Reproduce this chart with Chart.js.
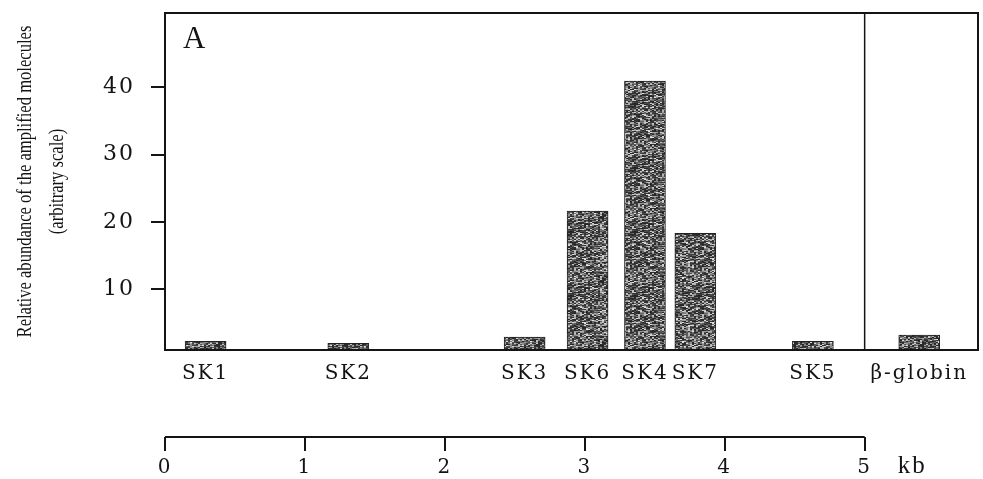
<!DOCTYPE html>
<html>
<head>
<meta charset="utf-8">
<script src="https://cdn.jsdelivr.net/npm/chart.js@4/dist/chart.umd.min.js"></script>
<style>
  html, body { margin: 0; padding: 0; background: #fff; }
  #wrap { width: 983px; height: 479px; }
</style>
</head>
<body>
<div id="wrap"><canvas id="abundanceChart" width="983" height="479"></canvas></div>
<script>
// данные графика
const markers = ['SK1', 'SK2', 'SK3', 'SK6', 'SK4', 'SK7', 'SK5', 'β-globin'];
const positionsKb = [0.29, 1.31, 2.57, 3.02, 3.43, 3.79, 4.63, 5.39];
const abundance = [2.3, 2.0, 2.9, 21.6, 40.9, 18.3, 2.3, 3.2];
const yTicks = [10, 20, 30, 40];
const kbTicks = [0, 1, 2, 3, 4, 5];
const dividerKb = 5;
const yTitle = ['Relative abundance of the amplified molecules', '(arbitrary scale)'];

const ink = '#141414';

// текстура столбиков (зернистая серая, детерминированная)
function makeGrain() {
    const size = 64;
    const c = document.createElement('canvas');
    c.width = size; c.height = size;
    const g = c.getContext('2d');
    const img = g.createImageData(size, size);
    let seed = 12345;
    const rnd = () => {
        seed = (seed + 0x6D2B79F5) | 0;
        let t = Math.imul(seed ^ (seed >>> 15), 1 | seed);
        t = (t + Math.imul(t ^ (t >>> 7), 61 | t)) ^ t;
        return ((t ^ (t >>> 14)) >>> 0) / 4294967296;
    };
    for (let y = 0; y < size; y++) {
        for (let x = 0; x < size; x += 2) {
            const r = rnd();
            const v = Math.round(38 + r * r * 190);
            for (let k = 0; k < 2; k++) {
                const i = (y * size + x + k) * 4;
                img.data[i] = v;
                img.data[i + 1] = v;
                img.data[i + 2] = v;
                img.data[i + 3] = 255;
            }
        }
    }
    g.putImageData(img, 0, 0);
    return g.createPattern(c, 'repeat');
}

// обнуляем внутренние отступы осей, чтобы область графика стояла точно
function noPad(s) {
    s.paddingTop = 0; s.paddingBottom = 0; s.paddingLeft = 0; s.paddingRight = 0;
}

// рамка, разделитель, буква A, шкала kb и подпись оси Y
const decorPlugin = {
    id: 'decor',
    beforeDraw(chart) {
        chart.ctx.letterSpacing = '2px';
    },
    afterDraw(chart) {
        const ctx = chart.ctx;
        const a = chart.chartArea;
        const x = chart.scales.x;
        const kb = chart.scales.kb;
        ctx.save();
        ctx.letterSpacing = '0px';
        ctx.strokeStyle = ink;
        ctx.lineWidth = 2;
        ctx.strokeRect(a.left, a.top, a.right - a.left, a.bottom - a.top);

        const dx = x.getPixelForValue(dividerKb);
        ctx.lineWidth = 1.5;
        ctx.beginPath();
        ctx.moveTo(dx, a.top);
        ctx.lineTo(dx, a.bottom);
        ctx.stroke();

        ctx.fillStyle = ink;
        ctx.font = '31px "Liberation Serif", serif';
        ctx.textAlign = 'left';
        ctx.textBaseline = 'alphabetic';
        ctx.fillText('A', a.left + 18, a.top + 35);

        // ось kb
        const x0 = kb.getPixelForValue(kbTicks[0]);
        const x5 = kb.getPixelForValue(kbTicks[kbTicks.length - 1]);
        ctx.lineWidth = 2;
        ctx.beginPath();
        ctx.moveTo(x0, kb.top);
        ctx.lineTo(x5, kb.top);
        ctx.stroke();

        ctx.letterSpacing = '2px';
        ctx.font = '25px "Liberation Serif", serif';
        ctx.textBaseline = 'middle';
        ctx.fillText('kb', x5 + 33, kb.top + 29);

        // подпись оси Y (узкий шрифт: сжимаем по длине строки)
        ctx.letterSpacing = '0px';
        ctx.font = '21px "Liberation Serif", serif';
        ctx.textAlign = 'center';
        ctx.textBaseline = 'middle';
        const midY = (a.top + a.bottom) / 2;
        ctx.translate(0, midY);
        ctx.rotate(-Math.PI / 2);
        ctx.scale(0.79, 1);
        ctx.fillText(yTitle[0], 0, 25);
        ctx.fillText(yTitle[1], 0, 57);
        ctx.restore();
    }
};

const ctx = document.getElementById('abundanceChart').getContext('2d');

window.abundanceChart = new Chart(ctx, {
    type: 'bar',
    data: {
        datasets: [{
            label: 'Relative abundance',
            data: positionsKb.map((p, i) => ({ x: p, y: abundance[i] })),
            backgroundColor: makeGrain(),
            borderColor: '#222',
            borderWidth: 1,
            borderSkipped: 'bottom',
            barThickness: 41,
            xAxisID: 'x',
            yAxisID: 'y'
        }]
    },
    options: {
        responsive: false,
        animation: false,
        layout: { padding: { left: 0, right: 5, top: 13, bottom: 0 } },
        plugins: {
            legend: { display: false },
            tooltip: { enabled: false }
        },
        scales: {
            x: {
                type: 'linear',
                position: 'bottom',
                offset: false,
                min: 0,
                max: 5.81,
                afterBuildTicks: s => { s.ticks = positionsKb.map(v => ({ value: v })); },
                afterFit: s => { s.height = 87; noPad(s); },
                grid: { display: false },
                border: { display: false },
                ticks: {
                    autoSkip: false,
                    maxRotation: 0,
                    padding: 4,
                    color: ink,
                    font: { family: '"DejaVu Serif", serif', size: 20 },
                    callback: (v, i) => markers[i]
                }
            },
            kb: {
                type: 'linear',
                position: 'bottom',
                offset: false,
                min: 0,
                max: 5.81,
                afterBuildTicks: s => { s.ticks = kbTicks.map(v => ({ value: v })); },
                afterFit: s => { s.height = 42; noPad(s); },
                grid: {
                    offset: false,
                    drawOnChartArea: false,
                    drawTicks: true,
                    tickLength: 14,
                    color: ink,
                    lineWidth: 2
                },
                border: { display: false },
                ticks: {
                    autoSkip: false,
                    maxRotation: 0,
                    padding: 5,
                    color: ink,
                    font: { family: '"DejaVu Serif", serif', size: 20 }
                }
            },
            y: {
                min: 1,
                max: 51,
                afterBuildTicks: s => { s.ticks = yTicks.map(v => ({ value: v })); },
                afterFit: s => { s.width = 165; noPad(s); },
                grid: {
                    drawOnChartArea: false,
                    drawTicks: true,
                    tickLength: 14,
                    color: ink,
                    lineWidth: 2
                },
                border: { display: false },
                ticks: {
                    padding: 16,
                    color: ink,
                    font: { family: '"DejaVu Serif", serif', size: 22 }
                }
            }
        }
    },
    plugins: [decorPlugin]
});
</script>
</body>
</html>
